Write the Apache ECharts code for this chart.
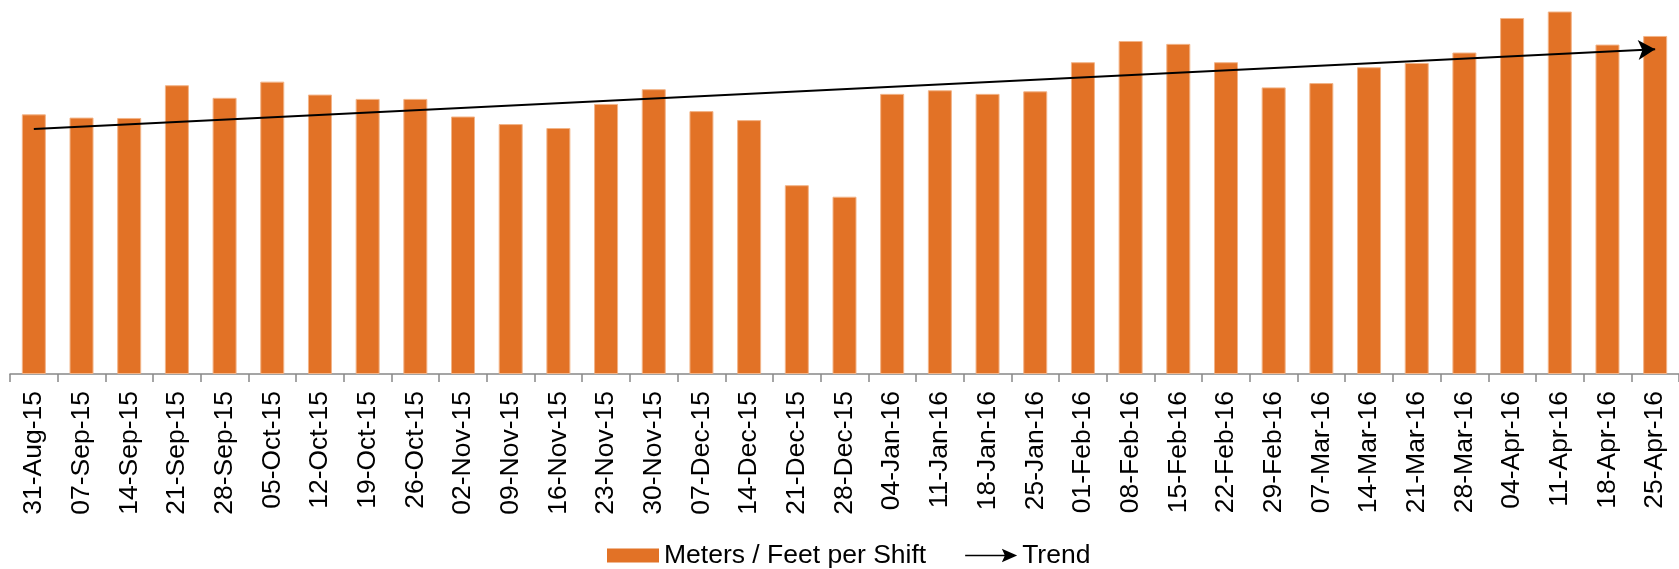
<!DOCTYPE html>
<html>
<head>
<meta charset="utf-8">
<script src="https://cdn.jsdelivr.net/npm/echarts@6/dist/echarts.min.js"></script>
<style>
html,body{margin:0;padding:0;background:#fff;}
#chart{width:1679px;height:569px;}
</style>
</head>
<body>
<div id="chart"></div>
<script>
const categories = ['31-Aug-15','07-Sep-15','14-Sep-15','21-Sep-15','28-Sep-15','05-Oct-15','12-Oct-15','19-Oct-15','26-Oct-15','02-Nov-15','09-Nov-15','16-Nov-15','23-Nov-15','30-Nov-15','07-Dec-15','14-Dec-15','21-Dec-15','28-Dec-15','04-Jan-16','11-Jan-16','18-Jan-16','25-Jan-16','01-Feb-16','08-Feb-16','15-Feb-16','22-Feb-16','29-Feb-16','07-Mar-16','14-Mar-16','21-Mar-16','28-Mar-16','04-Apr-16','11-Apr-16','18-Apr-16','25-Apr-16'];
const metersPerShift = [72.2,71.3,71.2,80.3,76.8,81.3,77.7,76.5,76.5,71.6,69.5,68.4,75.1,79.2,73.1,70.6,52.5,49.3,77.9,78.9,77.9,78.6,86.7,92.6,91.8,86.7,79.7,80.9,85.3,86.5,89.4,99.0,100.8,91.6,94.0];
const trendStartEnd = [68.1, 90.3];
const seriesNames = ['Meters / Feet per Shift', 'Trend'];

const chart = echarts.init(document.getElementById('chart'), null, {renderer:'canvas'});
const FONT = "'Liberation Sans', Arial, sans-serif";
chart.setOption({
  animation: false,
  backgroundColor: '#ffffff',
  grid: { left: 10, right: 0, top: 0, bottom: 195, containLabel: false },
  legend: {
    left: 607,
    top: 542,
    padding: 0,
    itemGap: 39,
    textStyle: { fontFamily: FONT, fontSize: 26.5, color: '#000' },
    data: [
      { name: seriesNames[0], icon: 'rect', itemStyle: { color: '#E27226', borderWidth: 0 } },
      { name: seriesNames[1], icon: 'path://M0,6.3 L40,6.3 L40,7.7 L0,7.7 Z M36,0.5 L51,7 L36,13.5 L39,7 Z', itemStyle: { color: '#000', borderWidth: 0 } }
    ],
    itemWidth: 52,
    itemHeight: 14
  },
  xAxis: {
    type: 'category',
    data: categories,
    boundaryGap: true,
    axisLine: { show: true, lineStyle: { color: '#888', width: 1.5 } },
    axisTick: { show: true, length: 8, lineStyle: { color: '#888', width: 1.5 }, alignWithLabel: false },
    axisLabel: { rotate: 90, interval: 0, margin: 17, fontFamily: FONT, fontSize: 26.5, color: '#000' },
    splitLine: { show: false }
  },
  yAxis: {
    type: 'value', min: 0, max: 104, show: false, splitLine: { show: false }
  },
  series: [
    {
      name: seriesNames[0],
      type: 'bar',
      data: metersPerShift,
      barWidth: 24,
      itemStyle: { color: '#E27226', borderColor: '#F2B488', borderWidth: 1 },
      emphasis: { disabled: true }
    },
    {
      name: seriesNames[1],
      type: 'line',
      data: [],
      itemStyle: { color: '#000' },
      lineStyle: { color: '#000' },
      markLine: {
        silent: true,
        symbol: ['none', 'arrow'],
        symbolSize: [15, 17],
        label: { show: false },
        lineStyle: { color: '#000', width: 2, type: 'solid' },
        emphasis: { disabled: true },
        data: [[ { coord: [0, trendStartEnd[0]] }, { coord: [categories.length - 1, trendStartEnd[1]] } ]]
      }
    }
  ]
});
</script>
</body>
</html>
